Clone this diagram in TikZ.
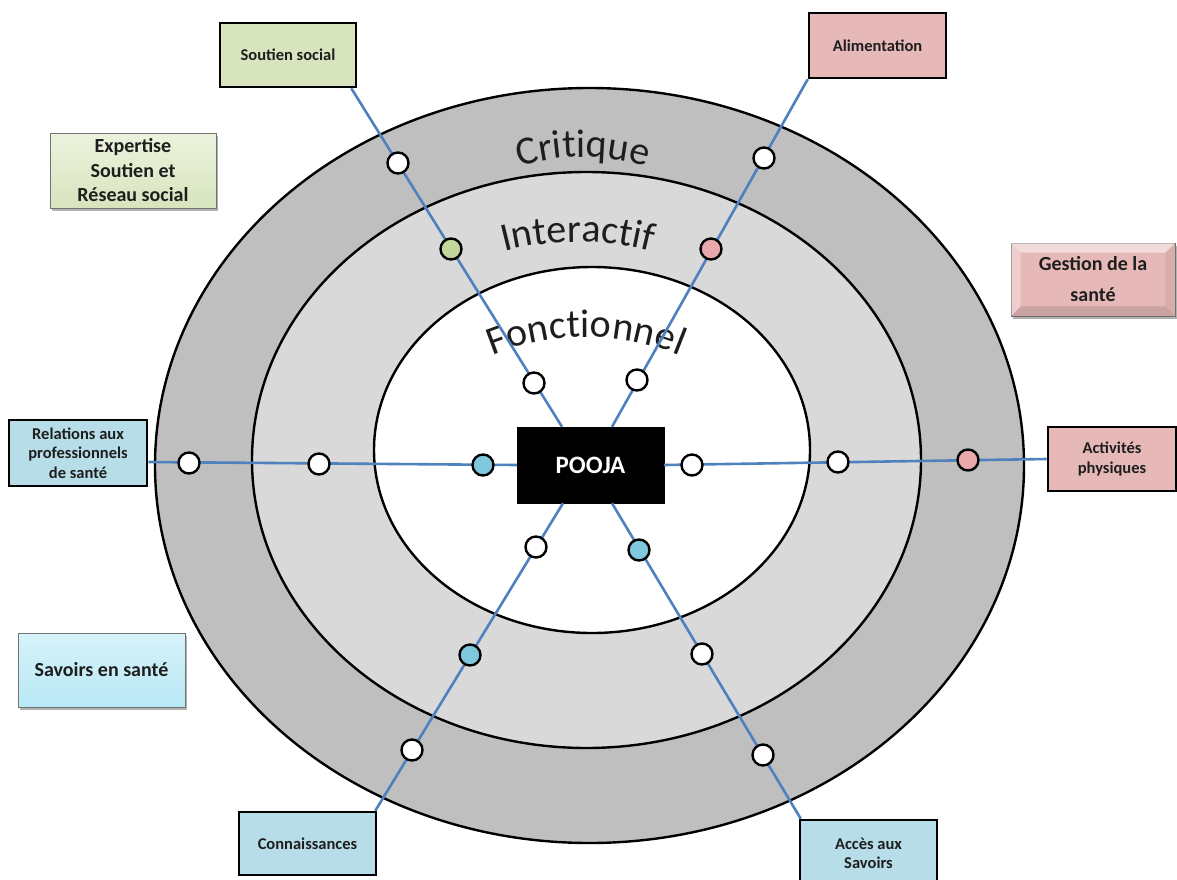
\documentclass[tikz,border=0pt]{standalone}
\usepackage{fontspec}
\setmainfont{Carlito}
\usetikzlibrary{decorations.text,shadows,calc}
\definecolor{ringA}{RGB}{191,191,191}
\definecolor{ringB}{RGB}{217,217,217}
\definecolor{spokeblue}{RGB}{79,129,189}
\definecolor{gfill}{RGB}{215,228,189}
\definecolor{gfilllt}{RGB}{236,243,222}
\definecolor{pfill}{RGB}{230,185,184}
\definecolor{bfill}{RGB}{183,222,232}
\definecolor{bfillb}{RGB}{185,232,245}
\definecolor{bfilllt}{RGB}{214,243,250}
\definecolor{gdot}{RGB}{195,214,155}
\definecolor{pdot}{RGB}{232,168,172}
\definecolor{bdot}{RGB}{128,200,222}
\definecolor{txt}{RGB}{30,30,30}
\newcommand{\arcfont}{\fontsize{40}{40}\selectfont\color{txt}}
\begin{document}
\begin{tikzpicture}[x=1pt,y=-1pt,
  lbox/.style={draw=black, line width=2.6pt, align=center, text=txt,
    font=\bfseries\fontsize{16.5}{19.5}\selectfont, inner sep=0pt},
  bigbox/.style={draw=black!55, line width=0.8pt, align=center, text=txt,
    font=\bfseries\fontsize{20}{25}\selectfont, inner sep=0pt,
    drop shadow={shadow xshift=2pt, shadow yshift=-3pt, fill=black, opacity=0.3}},
  spoke/.style={draw=spokeblue, line width=2.6pt},
  ring/.style={draw=black, line width=2.4pt},
  dotw/.style={circle, draw=black, line width=2.4pt, fill=white, minimum size=21pt, inner sep=0pt},
  dotg/.style={dotw, fill=gdot},
  dotp/.style={dotw, fill=pdot},
  dotb/.style={dotw, fill=bdot},
  arclabel/.style={decorate, decoration={text along path, text align=center}}
]
\clip (0,0) rectangle (1177,880);
\fill[white] (0,0) rectangle (1177,880);

% rings
\filldraw[ring, fill=ringA] (589.5,465.5) ellipse [x radius=434.5, y radius=377.5];
\filldraw[ring, fill=ringB] (586.5,460) ellipse [x radius=334.5, y radius=288];
\filldraw[ring, fill=white] (592,450) ellipse [x radius=218, y radius=183];

% ring labels
\path[arclabel, decoration={text={|\arcfont|Critique}}]
  (583,377) ++(125:220pt) arc[start angle=125, end angle=55, radius=220pt];
\path[arclabel, decoration={text={|\arcfont|Interactif}}]
  (578,532) ++(120:290pt) arc[start angle=120, end angle=60, radius=290pt];
\path[arclabel, decoration={text={|\arcfont|Fonctionnel}}]
  (586,582) ++(130:245pt) arc[start angle=130, end angle=50, radius=245pt];

% boxes
\node[lbox, fill=gfill, minimum width=136pt, minimum height=64pt] (soc) at (288,55) {Soutien social};
\node[lbox, fill=pfill, minimum width=137pt, minimum height=65pt] (ali) at (877.5,45.5) {Alimentation};
\node[lbox, fill=bfill, minimum width=138pt, minimum height=66pt] (rel) at (78,453) {Relations aux\\professionnels\\de santé};
\node[lbox, fill=pfill, minimum width=128pt, minimum height=64pt] (act) at (1112,459) {Activités\\physiques};
\node[lbox, fill=bfill, minimum width=137pt, minimum height=63pt] (con) at (307.5,843.5) {Connaissances};
\node[lbox, fill=bfill, minimum width=137pt, minimum height=67pt] (acc) at (868.5,853.5) {Accès aux\\Savoirs};

\node[bigbox, top color=gfilllt, bottom color=gfill, minimum width=166pt, minimum height=75pt,
  font=\bfseries\fontsize{20}{24.5}\selectfont] (exp) at (133,170.5) {Expertise\\Soutien et\\Réseau social};
\node[bigbox, top color=bfilllt, bottom color=bfillb, minimum width=167pt, minimum height=74pt] (sav) at (101.5,670) {Savoirs en santé};
\node[bigbox, fill=pfill, minimum width=164pt, minimum height=73pt,
  font=\bfseries\fontsize{20}{31}\selectfont] (ges) at (1093,279.5) {Gestion de la\\santé};
% bevel of the "Gestion" box
\fill[white, opacity=0.5] (ges.north west) -- (ges.north east) -- ([xshift=-10pt,yshift=-10pt]ges.north east) -- ([xshift=10pt,yshift=-10pt]ges.north west) -- cycle;
\fill[white, opacity=0.3] (ges.north west) -- ([xshift=10pt,yshift=-10pt]ges.north west) -- ([xshift=10pt,yshift=10pt]ges.south west) -- (ges.south west) -- cycle;
\fill[black, opacity=0.12] (ges.south west) -- ([xshift=10pt,yshift=10pt]ges.south west) -- ([xshift=-10pt,yshift=10pt]ges.south east) -- (ges.south east) -- cycle;
\fill[black, opacity=0.06] (ges.north east) -- ([xshift=-10pt,yshift=-10pt]ges.north east) -- ([xshift=-10pt,yshift=10pt]ges.south east) -- (ges.south east) -- cycle;

% centre
\node[fill=black, draw=black, minimum width=147pt, minimum height=76pt, inner sep=0pt,
  text=white, font=\bfseries\fontsize{25}{25}\selectfont] (pooja) at (590.5,465) {POOJA};

% spokes
\coordinate (pNW) at ([xshift=-28.5pt]pooja.north);
\coordinate (pNE) at ([xshift=21.5pt]pooja.north);
\coordinate (pSW) at ([xshift=-27.5pt]pooja.south);
\coordinate (pSE) at ([xshift=21.5pt]pooja.south);
\coordinate (socE) at ([xshift=-6pt]soc.south east);
\coordinate (conE) at ([xshift=-2pt]con.north east);
\coordinate (accE) at ([xshift=2pt]acc.north west);
\coordinate (relE) at ([yshift=-9pt]rel.east);
\draw[spoke] (socE) -- (pNW);
\draw[spoke] (ali.south west) -- (pNE);
\draw[spoke] (pSW) -- (conE);
\draw[spoke] (pSE) -- (accE);
\draw[spoke] (relE) -- (pooja.west);
\draw[spoke] (pooja.east) -- (act.west);

% dots
\node[dotw] (d1) at (398,163) {};
\node[dotg] (d2) at (451,249) {};
\node[dotw] (d3) at (534,383) {};
\node[dotw] (d4) at (764,158) {};
\node[dotp] (d5) at (711,249) {};
\node[dotw] (d6) at (637,380) {};
\node[dotw] (d7) at (536,547) {};
\node[dotb] (d8) at (470,655) {};
\node[dotw] (d9) at (412,750) {};
\node[dotb] (d10) at (639,550) {};
\node[dotw] (d11) at (702,654) {};
\node[dotw] (d12) at (763,755) {};
\node[dotw] (d13) at (189,463) {};
\node[dotw] (d14) at (319,464) {};
\node[dotb] (d15) at (483,465) {};
\node[dotw] (d16) at (692,465) {};
\node[dotw] (d17) at (838,462) {};
\node[dotp] (d18) at (968,460) {};
\end{tikzpicture}
\end{document}
